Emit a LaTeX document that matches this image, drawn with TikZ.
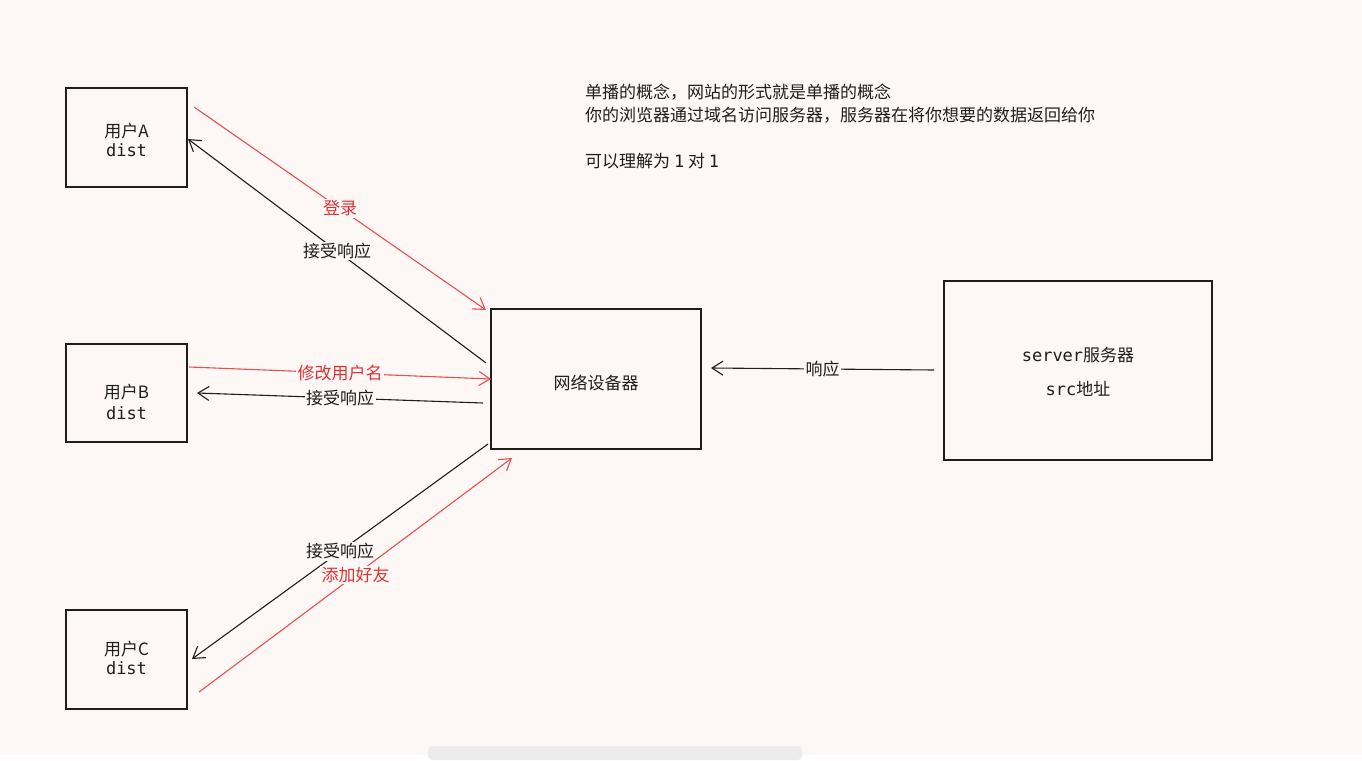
\documentclass[tikz,border=0pt]{standalone}
\usepackage{fontspec}
\setmainfont{Noto Sans CJK SC}
\newfontfamily\cjk{Noto Sans CJK SC}
\newfontfamily\mono{DejaVu Sans Mono}
\usetikzlibrary{arrows.meta}
\definecolor{bg}{HTML}{FDF8F6}
\definecolor{ink}{HTML}{1E1E1E}
\definecolor{redl}{HTML}{E03131}
\begin{document}
\begin{tikzpicture}[x=1pt,y=-1pt,
  box/.style={draw=ink,line width=1.1pt,inner sep=0pt},
  con/.style={line width=1.1pt,-{Straight Barb[length=11pt,width=14pt]}},
  blk/.style={con,draw=ink},
  rd/.style={con,draw=redl!85},
  lab/.style={fill=bg,inner sep=1.5pt,font=\fontsize{17}{20}\selectfont},
  txt/.style={font=\fontsize{17}{22}\selectfont,text=ink,align=center}]
\fill[bg] (0,0) rectangle (1362,755);
\fill[gray!15,rounded corners=4pt] (428,746) rectangle (802,760);
\useasboundingbox (0,0) rectangle (1362,755);
\draw[box] (66,88) rectangle (187,187);
\node[txt] (ua) at (126.5,140) {用户A\\[-3pt]{\mono dist}};
\draw[box] (66,344) rectangle (187,442);
\node[txt] (ub) at (126.5,402) {用户B\\[-1pt]{\mono dist}};
\draw[box] (66,610) rectangle (187,709);
\node[txt] (uc) at (126.5,658) {用户C\\[-3pt]{\mono dist}};
\draw[box] (491,309) rectangle (701,449);
\node[txt] (net) at (596,383) {网络设备器};
\draw[box] (944,281) rectangle (1212,460);
\node[txt] (srv) at (1078,372) {{\mono server}服务器\\[12pt]{\mono src}地址};
\coordinate (a1) at (194,107); \coordinate (a2) at (486,310);
\coordinate (a3) at (486,363); \coordinate (a4) at (188,139);
\coordinate (b1) at (189,367); \coordinate (b2) at (491,379);
\coordinate (b3) at (483,403); \coordinate (b4) at (197,393);
\coordinate (c1) at (488,444); \coordinate (c2) at (192,659);
\coordinate (c3) at (199,692); \coordinate (c4) at (512,458);
\coordinate (s1) at (934,370); \coordinate (s2) at (711,368);
\draw[rd] (a1) -- node[lab,text=redl,pos=0.5] {登录} (a2);
\draw[blk] (a3) -- node[lab,text=ink,pos=0.5] {接受响应} (a4);
\draw[rd] (b1) -- node[lab,text=redl,pos=0.5] {修改用户名} (b2);
\draw[blk] (b3) -- node[lab,text=ink,pos=0.5] {接受响应} (b4);
\draw[blk] (c1) -- node[lab,text=ink,pos=0.5] {接受响应} (c2);
\draw[rd] (c3) -- node[lab,text=redl,pos=0.5] {添加好友} (c4);
\draw[blk] (s1) -- node[lab,text=ink,pos=0.5] {响应} (s2);
\node[anchor=north west,align=left,text=ink,font=\fontsize{17}{23}\selectfont,inner sep=0pt] (note) at (585,84)
 {单播的概念，网站的形式就是单播的概念\\你的浏览器通过域名访问服务器，服务器在将你想要的数据返回给你\\[23pt]可以理解为 {\mono 1} 对 {\mono 1}};
\end{tikzpicture}
\end{document}
